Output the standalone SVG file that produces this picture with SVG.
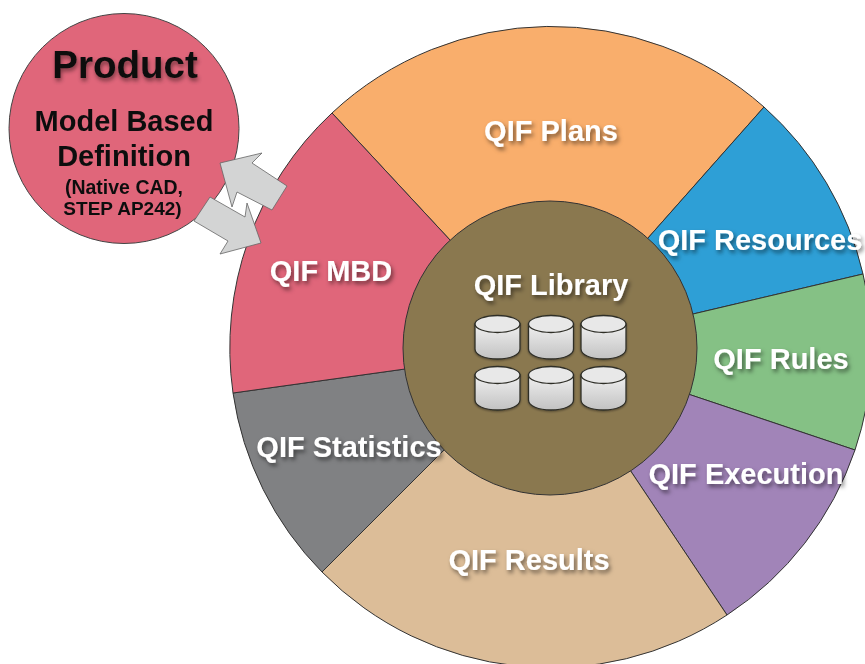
<svg xmlns="http://www.w3.org/2000/svg" width="865" height="664" viewBox="0 0 865 664">
<defs>
<filter id="soft" x="0" y="0" width="100%" height="100%" filterUnits="userSpaceOnUse" primitiveUnits="userSpaceOnUse"><feGaussianBlur stdDeviation="0.7"/></filter>
<filter id="ws" x="-20%" y="-40%" width="140%" height="180%"><feDropShadow dx="2" dy="3" stdDeviation="2" flood-color="#000" flood-opacity="0.5"/></filter>
<filter id="ks" x="-20%" y="-40%" width="140%" height="180%"><feDropShadow dx="1" dy="3" stdDeviation="2.2" flood-color="#000" flood-opacity="0.45"/></filter>
<filter id="cs" x="-20%" y="-20%" width="140%" height="140%"><feDropShadow dx="0" dy="1" stdDeviation="1" flood-color="#000" flood-opacity="0.4"/></filter>
<linearGradient id="cyl" x1="0" y1="0" x2="0" y2="1"><stop offset="0" stop-color="#f0f0f0"/><stop offset="1" stop-color="#c2c2c2"/></linearGradient>
<g id="can" filter="url(#cs)"><path class="can" d="M0 9 V34 C0 40 10 44 22.500 44 S45 40 45 34 V9 Z" fill="url(#cyl)"/><ellipse class="can" cx="22.500" cy="9" rx="22.500" ry="8.500" fill="#e8e8e8"/></g>
</defs>
<style>
.seg{stroke:#333;stroke-width:1}
.can{stroke:#2f2f28;stroke-width:1.300}
.w{font:bold 29px "Liberation Sans",Arial,sans-serif;fill:#fff;text-anchor:middle;filter:url(#ws)}
.k{font-family:"Liberation Sans",Arial,sans-serif;font-weight:bold;fill:#111;text-anchor:middle}
.arrow{fill:#d3d4d4;stroke:#666;stroke-width:.8}
</style>
<rect width="865" height="664" fill="#fff"/>
<g filter="url(#soft)">
<g id="connectors">
</g>
<g id="qif-plans"><path class="seg" d="M550 348 L450 240 L332 113 A321 321 0 0 1 764 107 L648 238 Z" fill="#f9ae6c"/></g>
<g id="qif-resources"><path class="seg" d="M550 348 L648 238 L764 107 A321 321 0 0 1 863 274 L693 314 Z" fill="#2e9fd6"/></g>
<g id="qif-rules"><path class="seg" d="M550 348 L693 314 L863 274 A321 321 0 0 1 855 450 L691 395 Z" fill="#85c185"/></g>
<g id="qif-execution"><path class="seg" d="M550 348 L691 395 L855 450 A321 321 0 0 1 727 615 L632 473 Z" fill="#a184b8"/></g>
<g id="qif-results"><path class="seg" d="M550 348 L632 473 L727 615 A321 321 0 0 1 322 572 L441 453 Z" fill="#dcbd98"/></g>
<g id="qif-statistics"><path class="seg" d="M550 348 L441 453 L322 572 A321 321 0 0 1 233 393 L405 369 Z" fill="#808183"/></g>
<g id="qif-mbd"><path class="seg" d="M550 348 L405 369 L233 393 A321 321 0 0 1 332 113 L450 240 Z" fill="#e0667a"/></g>
<g id="qif-library">
<circle cx="550" cy="348" r="147" fill="#8a7850" stroke="#333" stroke-width="1"/>
<use href="#can" x="475" y="315"/><use href="#can" x="528.500" y="315"/><use href="#can" x="581" y="315"/>
<use href="#can" x="475" y="366"/><use href="#can" x="528.500" y="366"/><use href="#can" x="581" y="366"/>
<text class="w" x="551" y="295">QIF Library</text>
</g>
<g id="product">
<circle cx="124" cy="128.500" r="115" fill="#e0667a" stroke="#444" stroke-width="1"/>
<text class="k" x="125" y="78" font-size="38.500" style="filter:url(#ks)">Product</text>
<text class="k" x="124" y="131" font-size="29">Model Based</text>
<text class="k" x="124" y="166" font-size="29">Definition</text>
<text class="k" x="124" y="194" font-size="19.500">(Native CAD,</text>
<text class="k" x="122.500" y="215" font-size="19">STEP AP242)</text>
</g>
<g id="arrows">
<path class="arrow" d="M220 163 L262 153 L252 163 L287 186 L272 210 L237 192 L232 207 Z"/>
<path class="arrow" d="M210 197 L194 221 L228 241 L220 254 L261 243 L247 203 L245 217 Z"/>
</g>
<g id="labels">
<text class="w" x="551" y="141">QIF Plans</text>
<text class="w" x="760" y="250">QIF Resources</text>
<text class="w" x="781" y="369">QIF Rules</text>
<text class="w" x="746" y="484">QIF Execution</text>
<text class="w" x="529" y="570">QIF Results</text>
<text class="w" x="349" y="457">QIF Statistics</text>
<text class="w" x="331" y="281">QIF MBD</text>
</g>
</g>
</svg>
